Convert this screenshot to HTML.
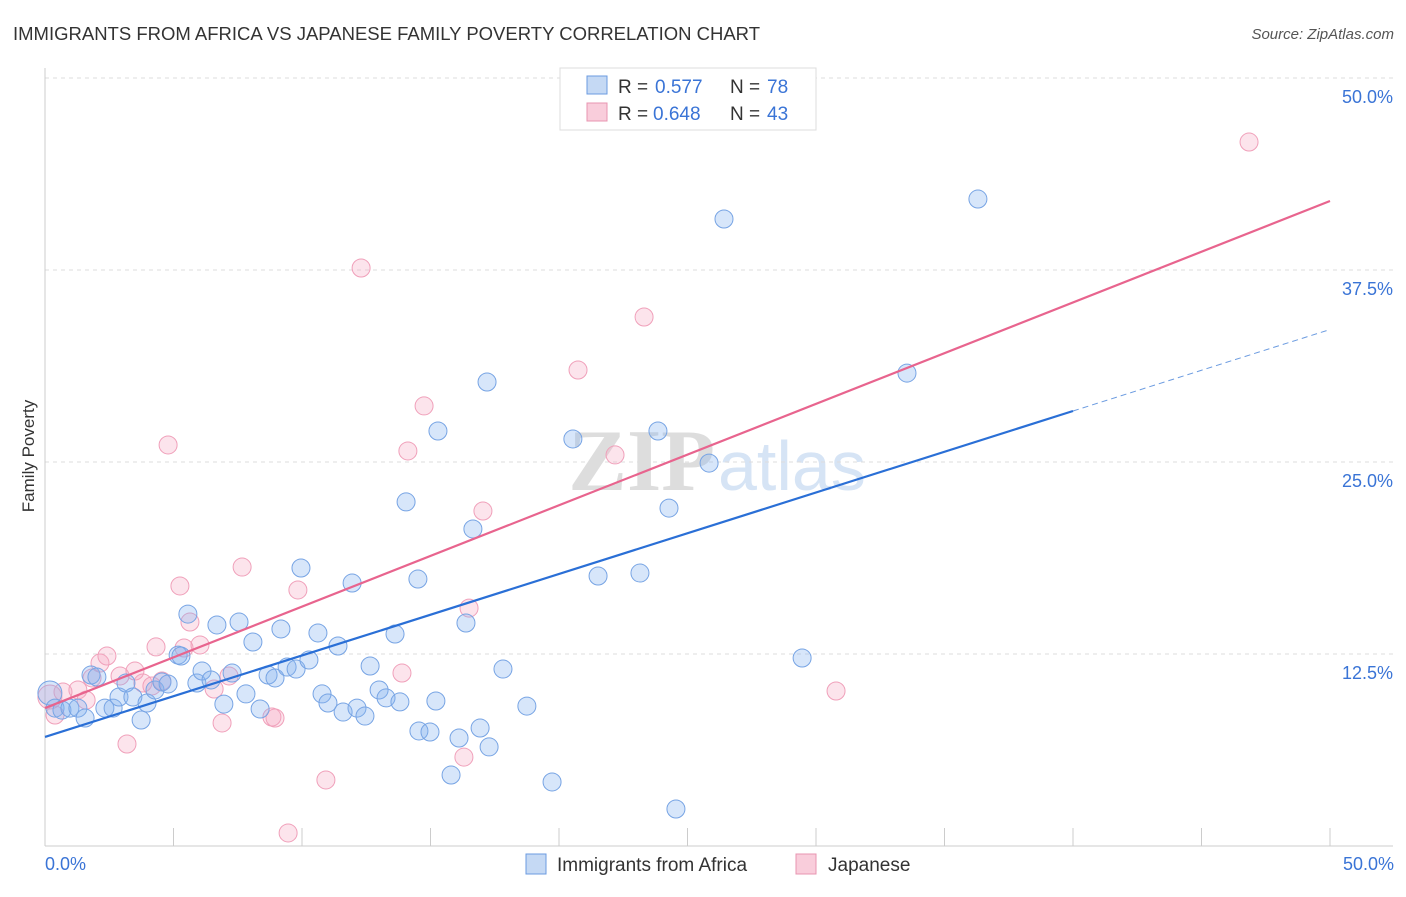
<!DOCTYPE html>
<html><head><meta charset="utf-8"><style>
body{margin:0;background:#fff;font-family:"Liberation Sans",sans-serif}
</style></head><body>
<svg id="chart" width="1406" height="892" viewBox="0 0 1406 892" xmlns="http://www.w3.org/2000/svg">
<text x="13" y="40" font-size="18.5" fill="#333">IMMIGRANTS FROM AFRICA VS JAPANESE FAMILY POVERTY CORRELATION CHART</text>
<text x="1394" y="39" font-size="15" font-style="italic" fill="#555" text-anchor="end">Source: ZipAtlas.com</text>
<text x="715" y="490" font-size="88" font-family="Liberation Serif,serif" fill="#ddd" text-anchor="end" font-weight="bold">ZIP</text>
<text x="718" y="490" font-size="70" fill="#d6e4f5">atlas</text>
<g id="grid"></g>
<g id="axes"></g>
<g id="pts"></g>
<g id="lines"></g>
<text transform="translate(34,456) rotate(-90)" font-size="17" fill="#333" text-anchor="middle">Family Poverty</text>
<text x="45" y="870" font-size="18" fill="#3a74d6">0.0%</text>
<text x="1394" y="870" font-size="18" fill="#3a74d6" text-anchor="end">50.0%</text>
<g>
<rect x="560" y="68" width="256" height="62" fill="#fff" stroke="#ddd"/>
<rect x="587" y="76" width="20" height="18" fill="#c5d9f4" stroke="#6b9be0"/>
<rect x="587" y="103" width="20" height="18" fill="#f9cddb" stroke="#e895b0"/>
<text x="618" y="93" font-size="19" fill="#333">R =</text><text x="655" y="93" font-size="19" fill="#3a74d6">0.577</text>
<text x="730" y="93" font-size="19" fill="#333">N =</text><text x="767" y="93" font-size="19" fill="#3a74d6">78</text>
<text x="618" y="120" font-size="19" fill="#333">R =</text><text x="653" y="120" font-size="19" fill="#3a74d6">0.648</text>
<text x="730" y="120" font-size="19" fill="#333">N =</text><text x="767" y="120" font-size="19" fill="#3a74d6">43</text>
</g>
<g>
<rect x="526" y="854" width="20" height="20" fill="#c5d9f4" stroke="#6b9be0"/>
<text x="557" y="871" font-size="19" fill="#333">Immigrants from Africa</text>
<rect x="796" y="854" width="20" height="20" fill="#f9cddb" stroke="#e895b0"/>
<text x="828" y="871" font-size="19" fill="#333">Japanese</text>
</g>
</svg>
<script>
const yTicks=[12.5,25,37.5,50];
const yTickLabels=["12.5%","25.0%","37.5%","50.0%"];
const xTicks=[0,5,10,15,20,25,30,35,40,45,50];
const blueX=[0.19,0.39,0.66,0.97,1.28,1.56,1.79,2.02,2.33,2.65,2.88,3.15,3.42,3.74,3.97,4.28,4.55,4.79,5.18,5.29,5.56,5.91,6.11,6.46,6.69,6.96,7.28,7.55,7.82,8.09,8.37,8.68,8.95,9.18,9.42,9.77,9.96,10.27,10.62,10.78,11.01,11.4,11.6,11.95,12.14,12.45,12.65,13.0,13.27,13.62,13.81,14.05,14.51,14.55,14.98,15.21,15.29,15.8,16.11,16.38,16.65,16.93,17.2,17.28,17.82,18.75,19.73,20.54,21.52,23.15,23.85,24.28,24.55,25.84,26.42,29.46,33.54,36.3];
const blueY=[9.96,8.98,8.85,8.98,8.98,8.33,11.13,11.0,8.98,8.98,9.7,10.61,9.7,8.2,9.31,10.16,10.68,10.55,12.43,12.37,15.1,10.61,11.39,10.81,14.39,9.24,11.26,14.58,9.9,13.28,8.92,11.13,10.94,14.13,11.65,11.52,18.1,12.11,13.87,9.9,9.31,13.02,8.72,17.12,8.98,8.46,11.72,10.16,9.64,13.8,9.38,22.4,17.38,7.49,7.42,9.44,27.02,4.62,7.03,14.52,20.64,7.68,30.21,6.45,11.52,9.11,4.17,26.5,17.58,17.77,27.02,22.0,2.41,24.93,40.82,12.24,30.79,42.12];
const pinkX=[0.19,0.39,0.7,1.28,1.6,1.83,2.14,2.41,2.92,3.19,3.5,3.81,4.16,4.32,4.55,4.79,5.25,5.41,5.64,6.03,6.58,6.89,7.16,7.67,8.83,8.95,9.46,9.84,10.93,12.3,13.89,14.12,14.75,16.3,16.5,17.04,20.74,22.18,23.31,30.78,46.85];
const pinkY=[9.7,8.53,10.03,10.16,9.5,10.94,11.91,12.37,11.07,6.64,11.39,10.61,10.42,12.96,10.74,26.11,16.93,12.89,14.58,13.09,10.22,8.01,11.07,18.16,8.4,8.33,0.85,16.67,4.3,37.63,11.26,25.72,28.65,5.79,15.49,21.81,30.99,25.46,34.44,10.09,45.83];
const blueLine=[7.1,0.5305,40,50];
const pinkLine=[8.98,0.6602];
const NS="http://www.w3.org/2000/svg";
const sx=v=>45+v*25.7, sy=v=>846-v*15.36;
function mk(tag,attrs,parent){const e=document.createElementNS(NS,tag);for(const k in attrs)e.setAttribute(k,attrs[k]);document.getElementById(parent).appendChild(e);return e;}
yTicks.forEach((t,i)=>{
 const g=mk('line',{x1:45,x2:1393,y1:sy(t),y2:sy(t),stroke:'#ddd','stroke-dasharray':'4,4'},'grid');
 
 
 const l=mk('text',{x:1393,y:sy(t)+25,'font-size':18,fill:'#3a74d6','text-anchor':'end'},'grid');
 l.textContent=yTickLabels[i];
 
 
});
const ax=mk('line',{x1:45,x2:1393,y1:846,y2:846,stroke:'#ccc'},'axes');


const ay=mk('line',{x1:45,x2:45,y1:68,y2:846,stroke:'#ccc'},'axes');


xTicks.forEach(t=>{
 const k=mk('line',{x1:sx(t),x2:sx(t),y1:828,y2:846,stroke:'#ccc'},'axes');
 
 
});
function pts(X,Y,fill,stroke,name){X.forEach((x,i)=>{
 const c=mk('circle',{cx:sx(x),cy:sy(Y[i]),r:i==0?12:9,fill:fill,stroke:stroke,'stroke-width':1},'pts');
 
 
});}
pts(pinkX,pinkY,'rgba(244,165,192,0.3)','#f0a0ba','japanese-point');
pts(blueX,blueY,'rgba(130,178,238,0.32)','#77a4e4','africa-point');
const pl=mk('line',{x1:sx(0),y1:sy(pinkLine[0]),x2:sx(50),y2:sy(pinkLine[0]+pinkLine[1]*50),stroke:'#e8648e','stroke-width':2.2},'lines');


const bl=mk('line',{x1:sx(0),y1:sy(blueLine[0]),x2:sx(blueLine[2]),y2:sy(blueLine[0]+blueLine[1]*blueLine[2]),stroke:'#2a6fd6','stroke-width':2.2},'lines');


const bd=mk('line',{x1:sx(blueLine[2]),y1:sy(blueLine[0]+blueLine[1]*blueLine[2]),x2:sx(blueLine[3]),y2:sy(blueLine[0]+blueLine[1]*blueLine[3]),stroke:'#6b9be0','stroke-width':1,'stroke-dasharray':'6,4'},'lines');


</script>
</body></html>
